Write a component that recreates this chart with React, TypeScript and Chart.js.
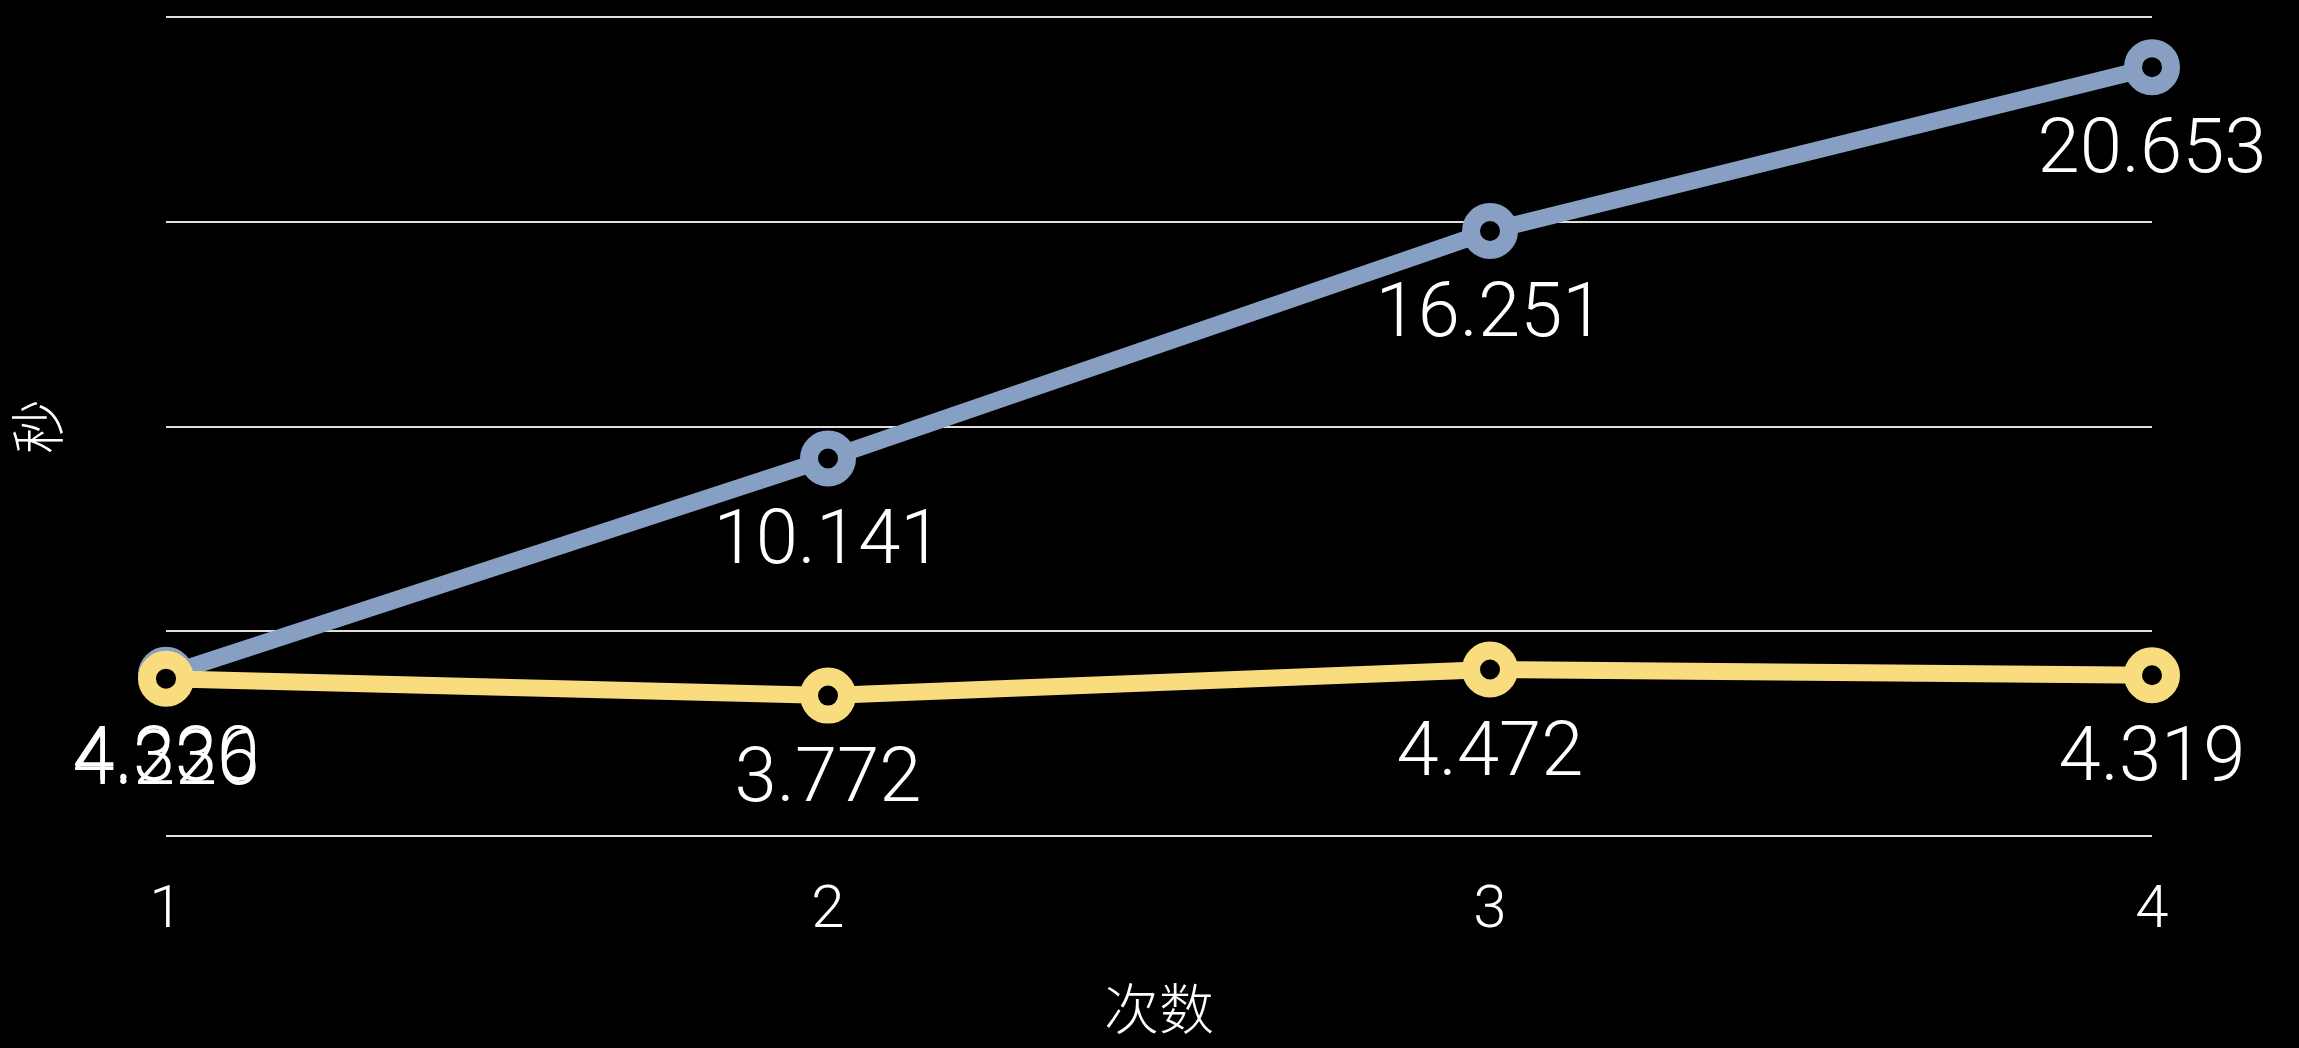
import React, { useEffect, useRef } from "react";
import { Chart, registerables } from "chart.js";

Chart.register(...registerables);

const categories = ["1", "2", "3", "4"];
const blueValues = [4.33, 10.141, 16.251, 20.653];
const yellowValues = [4.226, 3.772, 4.472, 4.319];
const blueLabels = ["4.330", "10.141", "16.251", "20.653"];
const yellowLabels = ["4.226", "3.772", "4.472", "4.319"];
const xTitle = "次数";
const yTitle = "秒";

const FONT = "'Helvetica Neue', Roboto, 'Noto Sans CJK SC', sans-serif";

const labelPlugin = {
  id: "valueLabels",
  afterDatasetsDraw(chart: any) {
    const ctx = chart.ctx;
    ctx.save();
    ctx.fillStyle = "#ffffff";
    ctx.font = `300 76px ${FONT}`;
    ctx.textAlign = "center";
    ctx.textBaseline = "middle";
    chart.data.datasets.forEach((ds: any, i: number) => {
      const meta = chart.getDatasetMeta(i);
      const labels = ds.valueLabels as string[];
      meta.data.forEach((pt: any, j: number) => {
        ctx.fillText(labels[j], pt.x, pt.y + 86);
      });
    });
    ctx.restore();
  },
};

export default function App() {
  const ref = useRef<HTMLCanvasElement>(null);
  useEffect(() => {
    document.body.style.margin = "0";
    document.body.style.background = "#000";
    const chart = new Chart(ref.current!, {
      type: "line",
      data: {
        labels: categories,
        datasets: [
          {
            label: "B",
            data: blueValues,
            valueLabels: blueLabels,
            borderColor: "#889fc4",
            pointBorderColor: "#889fc4",
            pointBackgroundColor: "#000000",
            borderWidth: 17,
            pointRadius: 19,
            pointBorderWidth: 18,
            pointHoverRadius: 19,
            tension: 0,
            order: 1,
          } as any,
          {
            label: "A",
            data: yellowValues,
            valueLabels: yellowLabels,
            borderColor: "#f9dc7e",
            pointBorderColor: "#f9dc7e",
            pointBackgroundColor: "#000000",
            borderWidth: 17,
            pointRadius: 19,
            pointBorderWidth: 18,
            pointHoverRadius: 19,
            tension: 0,
            order: 0,
          } as any,
        ],
      },
      options: {
        animation: false,
        responsive: false,
        maintainAspectRatio: false,
        layout: { autoPadding: false, padding: { top: 17, right: 147, left: 0, bottom: 0 } },
        plugins: { legend: { display: false }, tooltip: { enabled: false } },
        scales: {
          x: {
            offset: false,
            grid: { display: false, drawTicks: false },
            border: { display: false },
            ticks: {
              color: "#ffffff",
              font: { family: FONT, size: 60, weight: "300" as any },
              padding: 40,
            },
            title: {
              display: true,
              text: xTitle,
              color: "#ffffff",
              font: { family: FONT, size: 55, weight: "300" as any },
              padding: { top: 0, bottom: 0 },
            },
            afterFit(scale: any) {
              scale.height = 212;
            },
          },
          y: {
            min: 0,
            max: 22,
            ticks: { display: false, stepSize: 5.5 },
            grid: { color: "#e0e0e0", lineWidth: 2, drawTicks: false },
            border: { display: false },
            title: {
              display: true,
              text: yTitle,
              color: "#ffffff",
              font: { family: FONT, size: 55, weight: "300" as any },
              padding: { top: 11, bottom: 0 },
            },
            afterFit(scale: any) {
              scale.width = 166;
            },
          },
        },
      },
      plugins: [labelPlugin],
    });
    return () => chart.destroy();
  }, []);
  return (
    <div style={{ position: "absolute", left: 0, top: 0, width: 2299, height: 1048, background: "#000" }}>
      <canvas ref={ref} width={2299} height={1048} style={{ display: "block", width: 2299, height: 1048 }} />
    </div>
  );
}
